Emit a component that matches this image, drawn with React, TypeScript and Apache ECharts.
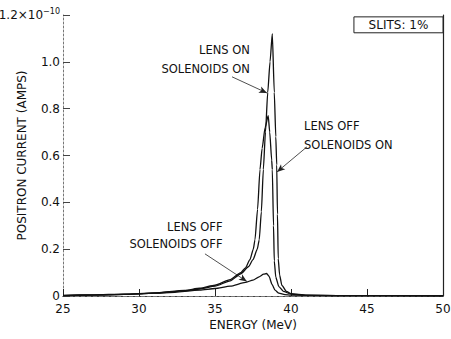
import React, { useEffect, useRef } from "react";
import * as echarts from "echarts";

// Energy (MeV) and positron current (x 1e-10 A) for each run
const lensOnSolOnE = [25, 27, 29, 31, 33, 34, 35, 36, 36.7, 37.2, 37.5, 37.78, 37.91, 38.05, 38.18, 38.32, 38.47, 38.62, 38.77, 38.9, 39.0, 39.06, 39.11, 39.16, 39.25, 39.4, 39.7, 40, 41, 43, 50];
const lensOnSolOnI = [0.002, 0.004, 0.007, 0.012, 0.022, 0.03, 0.042, 0.065, 0.095, 0.125, 0.155, 0.2, 0.24, 0.36, 0.54, 0.7, 0.87, 1.0, 1.12, 0.87, 0.68, 0.56, 0.35, 0.16, 0.09, 0.045, 0.02, 0.01, 0.004, 0.002, 0.001];

const lensOffSolOnE = [25, 27, 29, 31, 33, 34, 35, 36, 36.7, 37.0, 37.3, 37.52, 37.63, 37.8, 37.96, 38.1, 38.3, 38.5, 38.6, 38.73, 38.77, 38.85, 38.9, 39.0, 39.2, 39.5, 40, 41, 43, 50];
const lensOffSolOnI = [0.003, 0.005, 0.008, 0.013, 0.024, 0.033, 0.046, 0.07, 0.1, 0.12, 0.155, 0.2, 0.24, 0.37, 0.54, 0.63, 0.72, 0.77, 0.7, 0.58, 0.54, 0.3, 0.15, 0.08, 0.04, 0.02, 0.008, 0.003, 0.002, 0.001];

const lensOffSolOffE = [25, 28, 30, 32, 34, 35, 36, 37, 37.5, 37.9, 38.2, 38.4, 38.55, 38.75, 38.95, 39.2, 39.6, 40, 42, 50];
const lensOffSolOffI = [0.002, 0.005, 0.009, 0.015, 0.025, 0.032, 0.042, 0.058, 0.068, 0.082, 0.093, 0.096, 0.085, 0.05, 0.025, 0.012, 0.006, 0.004, 0.002, 0.001];

const xTicks = [25, 30, 35, 40, 45, 50];
const yTickLabels = ["0", "0.2", "0.4", "0.6", "0.8", "1.0", "1.2"];

const FONT = "DejaVu Sans";

const zip = (xs: number[], ys: number[]) => xs.map((x, i) => [x, ys[i]]);

export default function App() {
  const ref = useRef<HTMLDivElement>(null);
  useEffect(() => {
    if (!ref.current) return;
    const chart = echarts.init(ref.current, null, { renderer: "svg" });
    const lineSeries = (name: string, data: number[][]) => ({
      name,
      type: "line",
      data,
      showSymbol: false,
      smooth: 0.2,
      smoothMonotone: "x",
      lineStyle: { color: "#111", width: 1.3 },
      z: 3,
    });
    const arrowLine = (a: number[], b: number[]) => [{ coord: a }, { coord: b }];
    chart.setOption({
      animation: false,
      backgroundColor: "#fff",
      textStyle: { fontFamily: FONT },
      grid: { left: 63, right: 8, top: 15, bottom: 43, containLabel: false, outerBoundsMode: "none" },
      xAxis: [
        {
          type: "value",
          min: 25,
          max: 50,
          interval: 5,
          name: "ENERGY (MeV)",
          nameLocation: "middle",
          nameGap: 23,
          nameMoveOverlap: false,
          nameTextStyle: { fontFamily: FONT, fontSize: 12, color: "#111" },
          axisLine: { lineStyle: { color: "#222", width: 1 } },
          axisTick: { inside: true, length: 7, lineStyle: { color: "#222" } },
          axisLabel: {
            fontFamily: FONT,
            fontSize: 12,
            color: "#111",
            margin: 7,
            formatter: (v: number) => (xTicks.includes(v) ? String(v) : ""),
          },
          splitLine: { show: false },
        },
        {
          type: "value",
          position: "top",
          min: 25,
          max: 50,
          axisLine: { show: true, lineStyle: { color: "#777", width: 1, type: [4, 2] } },
          axisTick: { show: false },
          axisLabel: { show: false },
          splitLine: { show: false },
        },
      ],
      yAxis: [
        {
          type: "value",
          min: 0,
          max: 1.2,
          interval: 0.2,
          name: "POSITRON CURRENT (AMPS)",
          nameLocation: "middle",
          nameGap: 35,
          nameMoveOverlap: false,
          nameTextStyle: { fontFamily: FONT, fontSize: 12, color: "#111" },
          axisLine: { show: true, lineStyle: { color: "#777", width: 1, type: [2, 2] } },
          axisTick: { show: true, inside: true, length: 7, lineStyle: { color: "#444" } },
          axisLabel: {
            fontFamily: FONT,
            fontSize: 12,
            color: "#111",
            margin: 3,
            formatter: (v: number) => {
              const i = Math.round(v / 0.2);
              if (i === 6) return "{a|1.2×10}{s|−10}";
              return yTickLabels[i] ?? "";
            },
            rich: {
              a: { fontFamily: FONT, fontSize: 12, color: "#111" },
              s: { fontFamily: FONT, fontSize: 8, color: "#111", padding: [0, 0, 8, 0] },
            },
          },
          splitLine: { show: false },
        },
        {
          type: "value",
          position: "right",
          min: 0,
          max: 1.2,
          axisLine: { show: true, lineStyle: { color: "#222", width: 1.2 } },
          axisTick: { show: false },
          axisLabel: { show: false },
          splitLine: { show: false },
        },
      ],
      series: [
        {
          ...lineSeries("LENS ON SOLENOIDS ON", zip(lensOnSolOnE, lensOnSolOnI)),
          markLine: {
            silent: true,
            symbol: ["none", "arrow"],
            symbolSize: [5, 8],
            label: { show: false },
            lineStyle: { color: "#222", width: 0.8, type: "solid" },
            data: [
              arrowLine([36.12, 0.936], [38.42, 0.867]),
              arrowLine([41.05, 0.637], [39.08, 0.53]),
              arrowLine([34.34, 0.18], [37.1, 0.062]),
            ],
          },
        },
        lineSeries("LENS OFF SOLENOIDS ON", zip(lensOffSolOnE, lensOffSolOnI)),
        lineSeries("LENS OFF SOLENOIDS OFF", zip(lensOffSolOffE, lensOffSolOffI)),
      ],
    });

    const px = (x: number, y: number) =>
      chart.convertToPixel({ xAxisIndex: 0, yAxisIndex: 0 }, [x, y]) as number[];
    const txt = (x: number, y: number, text: string, align: string) => {
      const p = px(x, y);
      return {
        type: "text",
        x: p[0],
        y: p[1],
        z: 10,
        style: {
          text,
          fontFamily: FONT,
          fontSize: 11.5,
          fill: "#111",
          align,
          verticalAlign: "middle",
        },
      };
    };
    const boxTL = px(44.14, 1.192);
    const boxBR = px(50, 1.124);
    chart.setOption({
      graphic: [
        txt(37.3, 1.05, "LENS ON", "right"),
        txt(37.3, 0.97, "SOLENOIDS ON", "right"),
        txt(40.86, 0.726, "LENS OFF", "left"),
        txt(40.86, 0.645, "SOLENOIDS ON", "left"),
        txt(35.5, 0.295, "LENS OFF", "right"),
        txt(35.5, 0.222, "SOLENOIDS OFF", "right"),
        {
          type: "rect",
          z: 10,
          shape: {
            x: boxTL[0],
            y: boxTL[1],
            width: boxBR[0] - boxTL[0],
            height: boxBR[1] - boxTL[1],
          },
          style: { fill: "#fff", stroke: "#222", lineWidth: 1 },
        },
        {
          type: "text",
          z: 11,
          x: (boxTL[0] + boxBR[0]) / 2,
          y: (boxTL[1] + boxBR[1]) / 2,
          style: {
            text: "SLITS: 1%",
            fontFamily: FONT,
            fontSize: 12,
            fill: "#111",
            align: "center",
            verticalAlign: "middle",
          },
        },
      ],
    });
    return () => chart.dispose();
  }, []);
  return <div ref={ref} style={{ width: 451, height: 339, position: "absolute", left: 0, top: 0 }} />;
}
